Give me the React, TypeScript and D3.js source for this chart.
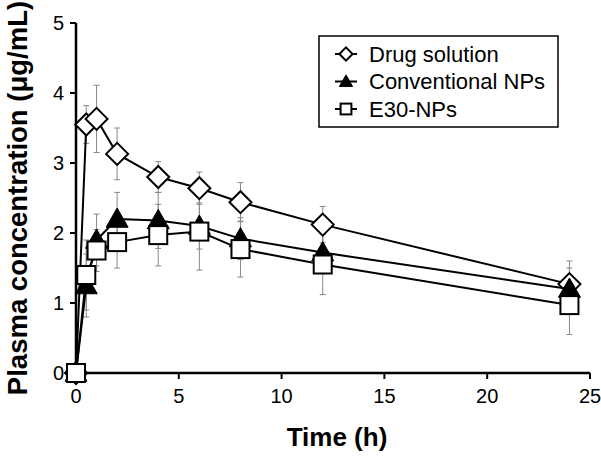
import React from "react";
import * as d3 from "d3";

const times = [0, 0.5, 1, 2, 4, 6, 8, 12, 24];
const seriesNames = ["Drug solution", "Conventional NPs", "E30-NPs"];
const drugSolution = [0, 3.55, 3.63, 3.13, 2.8, 2.64, 2.44, 2.12, 1.27];
const drugSolutionErr = [0, 0.27, 0.48, 0.37, 0.22, 0.23, 0.28, 0.26, 0.33];
const conventionalNPs = [0, 1.25, 1.9, 2.2, 2.18, 2.1, 1.92, 1.72, 1.2];
const conventionalNPsErr = [0, 0.45, 0.37, 0.38, 0.4, 0.33, 0.3, 0.3, 0.3];
const e30NPs = [0, 1.4, 1.75, 1.87, 1.97, 2.02, 1.77, 1.55, 0.97];
const e30NPsErr = [0, 0.5, 0.3, 0.37, 0.44, 0.55, 0.4, 0.43, 0.42];
const xTicks = [0, 5, 10, 15, 20, 25];
const yTicks = [0, 1, 2, 3, 4, 5];

const W = 601;
const H = 459;
const FONT = "Liberation Sans, Arial, sans-serif";

type Sym = "diamond" | "triangle" | "square";
const series: { name: string; values: number[]; err: number[]; sym: Sym }[] = [
  { name: seriesNames[0], values: drugSolution, err: drugSolutionErr, sym: "diamond" },
  { name: seriesNames[1], values: conventionalNPs, err: conventionalNPsErr, sym: "triangle" },
  { name: seriesNames[2], values: e30NPs, err: e30NPsErr, sym: "square" },
];

function Marker({ sym, x, y, scale = 1 }: { sym: Sym; x: number; y: number; scale?: number }) {
  if (sym === "diamond") {
    const r = 11 * scale;
    return (
      <path
        d={`M${x},${y - r}L${x + r},${y}L${x},${y + r}L${x - r},${y}Z`}
        fill="#fff"
        stroke="#000"
        strokeWidth={2}
      />
    );
  }
  if (sym === "triangle") {
    const r = 11 * scale;
    return (
      <path
        d={`M${x},${y - r}L${x + r},${y + r * 0.75}L${x - r},${y + r * 0.75}Z`}
        fill="#000"
        stroke="#000"
        strokeWidth={1}
      />
    );
  }
  const s = 9 * scale;
  return <rect x={x - s} y={y - s} width={2 * s} height={2 * s} fill="#fff" stroke="#000" strokeWidth={2} />;
}

export default function App() {
  const x = d3.scaleLinear().domain([0, 25]).range([76, 590]);
  const y = d3.scaleLinear().domain([0, 5]).range([373, 23]);
  const line = d3
    .line<number>()
    .x((_, i) => x(times[i]))
    .y((d) => y(d));

  return (
    <svg width={W} height={H} style={{ position: "absolute", left: 0, top: 0, background: "#fff" }}>
      {/* axes */}
      <line x1={x(0)} x2={x(0)} y1={y(5)} y2={y(0)} stroke="#000" strokeWidth={2.5} />
      <line x1={68} x2={x(25)} y1={y(0)} y2={y(0)} stroke="#000" strokeWidth={2.5} />
      {yTicks.map((t) => (
        <g key={"y" + t}>
          <line x1={x(0) - 6} x2={x(0)} y1={y(t)} y2={y(t)} stroke="#000" strokeWidth={2} />
          <text x={x(0) - 12} y={y(t)} dy="0.35em" textAnchor="end" fontFamily={FONT} fontSize={20}>
            {t}
          </text>
        </g>
      ))}
      {xTicks.map((t) => (
        <g key={"x" + t}>
          <line x1={x(t)} x2={x(t)} y1={y(0)} y2={y(0) + 6} stroke="#000" strokeWidth={2} />
          <text x={x(t)} y={y(0) + 30} textAnchor="middle" fontFamily={FONT} fontSize={20}>
            {t}
          </text>
        </g>
      ))}
      <text x={337} y={446} textAnchor="middle" fontFamily={FONT} fontSize={26} fontWeight="bold">
        Time (h)
      </text>
      <text
        transform={`translate(27,198) rotate(-90)`}
        textAnchor="middle"
        fontFamily={FONT}
        fontSize={27.5}
        fontWeight="bold"
      >
        Plasma concentration (μg/mL)
      </text>

      {/* error bars */}
      {series.map((s) =>
        s.values.map((v, i) =>
          s.err[i] > 0 ? (
            <g key={s.name + "e" + i} stroke="#888" strokeWidth={1}>
              <line x1={x(times[i])} x2={x(times[i])} y1={y(v + s.err[i])} y2={y(v - s.err[i])} />
              <line x1={x(times[i]) - 3} x2={x(times[i]) + 3} y1={y(v + s.err[i])} y2={y(v + s.err[i])} />
              <line x1={x(times[i]) - 3} x2={x(times[i]) + 3} y1={y(v - s.err[i])} y2={y(v - s.err[i])} />
            </g>
          ) : null
        )
      )}

      {/* lines and markers */}
      {series.map((s) => (
        <g key={s.name}>
          <path d={line(s.values) || ""} fill="none" stroke="#000" strokeWidth={2} />
          {s.values.map((v, i) => (
            <Marker key={i} sym={s.sym} x={x(times[i])} y={y(v)} />
          ))}
        </g>
      ))}

      {/* legend */}
      <rect x={319} y={36} width={239} height={91} fill="#fff" stroke="#000" strokeWidth={1.5} />
      {series.map((s, i) => {
        const cy = 54 + i * 27.5;
        return (
          <g key={"lg" + i}>
            <line x1={335} x2={357} y1={cy} y2={cy} stroke="#000" strokeWidth={2} />
            <Marker sym={s.sym} x={346} y={cy} scale={0.6} />
            <text x={369} y={cy} dy="0.35em" fontFamily={FONT} fontSize={22}>
              {s.name}
            </text>
          </g>
        );
      })}
    </svg>
  );
}
